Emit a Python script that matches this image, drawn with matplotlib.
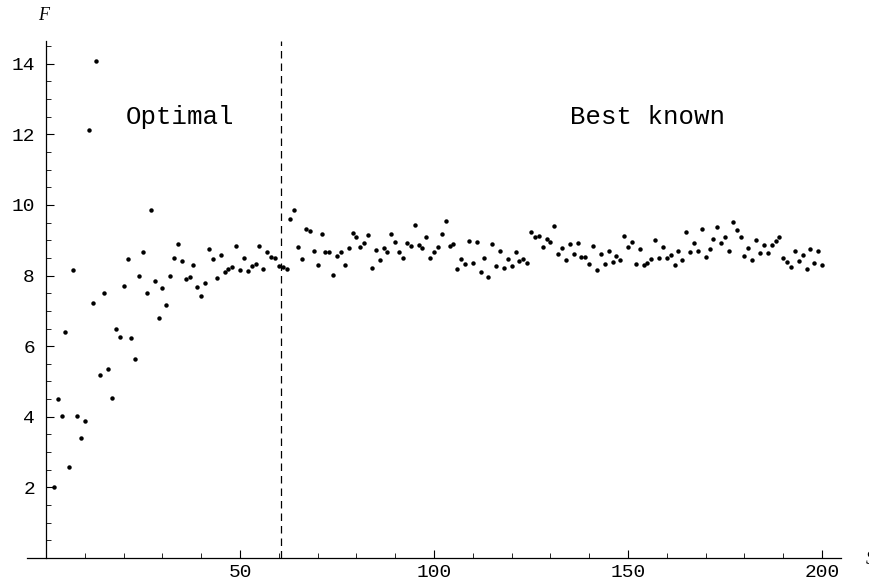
import matplotlib
matplotlib.use("Agg")
import matplotlib.pyplot as plt
import numpy as np
from matplotlib.ticker import MultipleLocator

# Values: F for each S = 2..200
s_values = np.arange(2, 201)
f_values = [
    2.00, 4.51, 4.01, 6.40, 2.59, 8.17, 4.01, 3.40, 3.87, 12.11,
    7.21, 14.08, 5.17, 7.51, 5.34, 4.53, 6.49, 6.25, 7.70, 8.48,
    6.22, 5.64, 8.00, 8.68, 7.52, 9.86, 7.85, 6.80, 7.64, 7.18,
    8.00, 8.51, 8.90, 8.40, 7.91, 7.97, 8.31, 7.68, 7.41, 7.80,
    8.74, 8.48, 7.94, 8.59, 8.09, 8.19, 8.23, 8.84, 8.17, 8.51,
    8.14, 8.26, 8.34, 8.85, 8.18, 8.66, 8.54, 8.50, 8.27, 8.25,
    8.19, 9.59, 9.86, 8.81, 8.48, 9.33, 9.25, 8.69, 8.31, 9.18,
    8.66, 8.66, 8.03, 8.55, 8.66, 8.29, 8.77, 9.21, 9.10, 8.82,
    8.93, 9.15, 8.21, 8.73, 8.43, 8.79, 8.66, 9.18, 8.95, 8.68,
    8.50, 8.91, 8.85, 9.43, 8.87, 8.78, 9.08, 8.50, 8.66, 8.82,
    9.18, 9.56, 8.84, 8.90, 8.20, 8.47, 8.32, 8.97, 8.37, 8.96,
    8.09, 8.50, 7.97, 8.89, 8.27, 8.71, 8.22, 8.48, 8.26, 8.68,
    8.42, 8.48, 8.35, 9.24, 9.08, 9.11, 8.80, 9.05, 8.96, 9.41,
    8.60, 8.77, 8.45, 8.89, 8.61, 8.93, 8.53, 8.53, 8.33, 8.84,
    8.17, 8.60, 8.33, 8.71, 8.38, 8.55, 8.45, 9.13, 8.81, 8.95,
    8.33, 8.74, 8.31, 8.37, 8.48, 9.02, 8.51, 8.80, 8.51, 8.58,
    8.29, 8.69, 8.44, 9.24, 8.67, 8.93, 8.71, 9.33, 8.54, 8.76,
    9.05, 9.37, 8.91, 9.08, 8.70, 9.51, 9.30, 9.10, 8.56, 8.79,
    8.43, 9.01, 8.65, 8.86, 8.63, 8.87, 8.98, 9.10, 8.50, 8.39,
    8.23, 8.69, 8.40, 8.59, 8.19, 8.76, 8.37, 8.71, 8.30,
]
split_s = 60.5
region_labels = ["Optimal", "Best known"]

mono = "Liberation Mono"

fig = plt.figure(figsize=(8.7, 5.85), dpi=100)
ax = fig.add_axes([0.0306, 0.0462, 0.9366, 0.884])

ax.plot(s_values, f_values, "o", color="black", markersize=3.2, markeredgewidth=0)
ax.plot([split_s, split_s], [0, 14.65], color="black", lw=0.9, linestyle=(0, (6, 4)))

ax.text(34.6, 12.5, region_labels[0], family=mono, fontsize=18.5, ha="center", va="center")
ax.text(154.9, 12.5, region_labels[1], family=mono, fontsize=18.5, ha="center", va="center")

ax.set_xlim(-5, 205)
ax.set_ylim(0, 14.65)

# Mathematica-style axes crossing at the origin
ax.spines["top"].set_visible(False)
ax.spines["right"].set_visible(False)
ax.spines["left"].set_position(("data", 0))
ax.spines["bottom"].set_position(("data", 0))
for sp in ("left", "bottom"):
    ax.spines[sp].set_linewidth(0.9)

ax.set_xticks([50, 100, 150, 200])
ax.set_yticks([2, 4, 6, 8, 10, 12, 14])
ax.xaxis.set_minor_locator(MultipleLocator(10))
ax.yaxis.set_minor_locator(MultipleLocator(0.5))
ax.tick_params(which="major", direction="in", length=6, width=0.8, labelsize=14)
ax.tick_params(axis="x", which="major", pad=4)
ax.tick_params(axis="y", which="major", pad=8)
ax.tick_params(which="minor", direction="in", length=3.5, width=0.6)
for lab in ax.get_xticklabels() + ax.get_yticklabels():
    lab.set_family(mono)

fig.text(44 / 870, 1 - 15 / 585, "F", family="Liberation Serif", style="italic",
         fontsize=13, ha="center", va="center")
fig.text(866 / 870, 1 - 560 / 585, "S", family="Liberation Serif", style="italic",
         fontsize=13, ha="left", va="center")

fig.savefig("out.png", dpi=100)
